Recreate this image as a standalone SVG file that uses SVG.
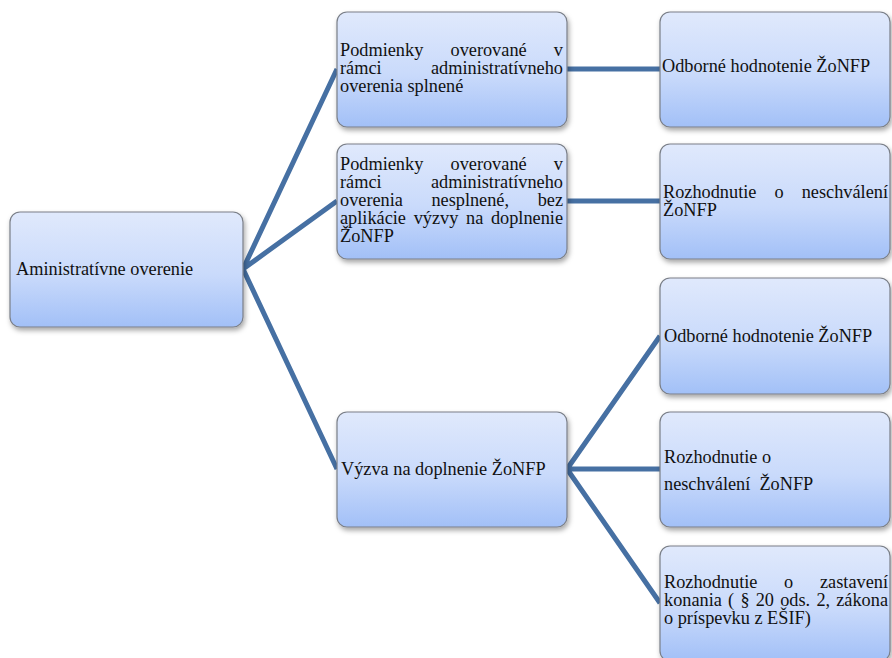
<svg xmlns="http://www.w3.org/2000/svg" width="892" height="658" viewBox="0 0 892 658">
<defs>
<linearGradient id="g" x1="0" y1="0" x2="0" y2="1">
<stop offset="0" stop-color="#e0e9fc"/>
<stop offset="0.55" stop-color="#c9dafb"/>
<stop offset="1" stop-color="#a2c0f7"/>
</linearGradient>
<filter id="sh" x="-10%" y="-10%" width="125%" height="130%">
<feDropShadow dx="1.5" dy="3" stdDeviation="2.5" flood-color="#000" flood-opacity="0.35"/>
</filter>
</defs>
<style>
.box{fill:url(#g);stroke:#7a7f88;stroke-width:1.2;filter:url(#sh)}
text{font-family:'Liberation Serif','Times New Roman','DejaVu Serif',serif;font-size:18.3px;fill:#111}
.e{text-anchor:end}
.c{stroke:#4670a3;stroke-width:5;fill:none;stroke-linejoin:round;stroke-linecap:butt}
</style>
<rect width="892" height="658" fill="#fff"/>
<g id="connectors">
<path class="c" d="M243,269 L337,69 M243,269 L337,201 M243,269 L337,469"/>
<path class="c" d="M567,69 L660,69 M567,201 L660,201"/>
<path class="c" d="M567,469 L660,336 M567,469 L660,469 M567,469 L660,603"/>
</g>
<g id="n-root">
<rect class="box" x="10" y="212" width="233" height="115" rx="10"/>
<text x="16" y="275">Aministratívne overenie</text>
</g>
<g id="n-splnene">
<rect class="box" x="337" y="12" width="230" height="115" rx="10"/>
<text y="55.5"><tspan x="340">Podmienky</tspan><tspan x="450.5">overované</tspan><tspan class="e" x="563">v</tspan></text>
<text y="73.8"><tspan x="340">rámci</tspan><tspan class="e" x="563">administratívneho</tspan></text>
<text x="340" y="92.1">overenia splnené</text>
</g>
<g id="n-nesplnene">
<rect class="box" x="337" y="144" width="230" height="115" rx="10"/>
<text y="170"><tspan x="340">Podmienky</tspan><tspan x="450.5">overované</tspan><tspan class="e" x="563">v</tspan></text>
<text y="188"><tspan x="340">rámci</tspan><tspan class="e" x="563">administratívneho</tspan></text>
<text y="206"><tspan x="340">overenia</tspan><tspan x="431.4">nesplnené,</tspan><tspan class="e" x="563">bez</tspan></text>
<text y="224"><tspan x="340">aplikácie</tspan><tspan x="413.7">výzvy</tspan><tspan x="466">na</tspan><tspan class="e" x="563">doplnenie</tspan></text>
<text x="340" y="242">ŽoNFP</text>
</g>
<g id="n-vyzva">
<rect class="box" x="337" y="412" width="230" height="115" rx="10"/>
<text x="341" y="475">Výzva na doplnenie ŽoNFP</text>
</g>
<g id="n-odborne1">
<rect class="box" x="660" y="12" width="230" height="115" rx="10"/>
<text x="662" y="72">Odborné hodnotenie ŽoNFP</text>
</g>
<g id="n-neschvalenie1">
<rect class="box" x="660" y="144" width="230" height="115" rx="10"/>
<text y="198"><tspan x="663">Rozhodnutie</tspan><tspan x="774.5">o</tspan><tspan class="e" x="888">neschválení</tspan></text>
<text x="663" y="216">ŽoNFP</text>
</g>
<g id="n-odborne2">
<rect class="box" x="660" y="278" width="230" height="116" rx="10"/>
<text x="664" y="342">Odborné hodnotenie ŽoNFP</text>
</g>
<g id="n-neschvalenie2">
<rect class="box" x="660" y="412" width="230" height="115" rx="10"/>
<text x="664" y="463">Rozhodnutie o</text>
<text x="664" y="490" xml:space="preserve">neschválení  ŽoNFP</text>
</g>
<g id="n-zastavenie">
<rect class="box" x="660" y="546" width="230" height="115" rx="10"/>
<text y="588"><tspan x="664">Rozhodnutie</tspan><tspan x="784.1">o</tspan><tspan class="e" x="888">zastavení</tspan></text>
<text y="606"><tspan x="664">konania</tspan><tspan x="728.1">(</tspan><tspan x="740.4">§</tspan><tspan x="755.7">20</tspan><tspan x="780.2">ods.</tspan><tspan x="816.4">2,</tspan><tspan class="e" x="888">zákona</tspan></text>
<text x="664" y="624">o príspevku z EŠIF)</text>
</g>
</svg>
